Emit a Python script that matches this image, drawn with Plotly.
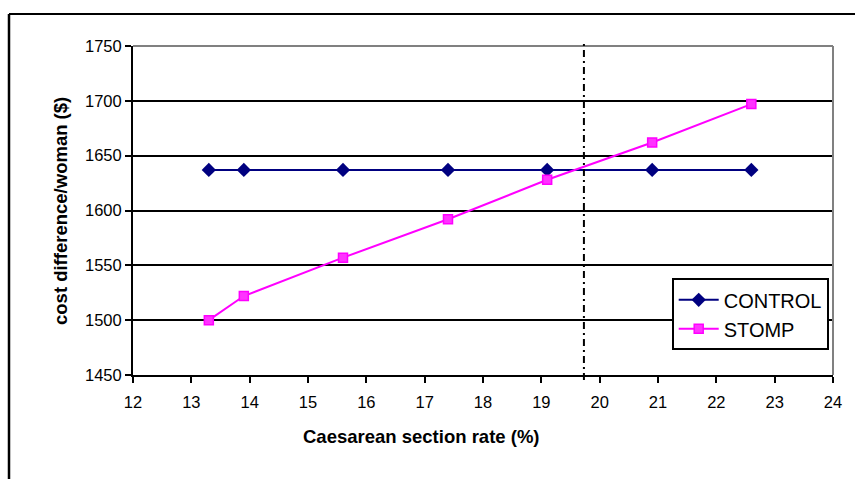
import plotly.graph_objects as go

# Data
x_rate = [13.3, 13.9, 15.6, 17.4, 19.1, 20.9, 22.6]
control_cost = [1637, 1637, 1637, 1637, 1637, 1637, 1637]
stomp_cost = [1500, 1522, 1557, 1592, 1628, 1662, 1697]
threshold_rate = 19.73

x_ticks = list(range(12, 25))
y_ticks = [1450, 1500, 1550, 1600, 1650, 1700, 1750]

FONT = "Liberation Sans, Arial, sans-serif"
W, H = 855, 479
L, R, T, B = 133, 22, 46, 104
PW, PH = W - L - R, H - T - B

fig = go.Figure()
fig.add_trace(go.Scatter(
    x=x_rate, y=control_cost, name="CONTROL", mode="lines+markers",
    line=dict(color="#000080", width=2),
    marker=dict(symbol="diamond", size=11, color="#000080"),
))
fig.add_trace(go.Scatter(
    x=x_rate, y=stomp_cost, name="STOMP", mode="lines+markers",
    line=dict(color="#FF00FF", width=2),
    marker=dict(symbol="square", size=9, color="#FF33FF",
                line=dict(color="#FF00FF", width=1.5)),
))


def px_x(p):
    return (p - L) / PW


def px_y(p):
    return (H - B - p) / PH


shapes = [
    # grey top/right frame of plot area
    dict(type="line", xref="paper", yref="paper", x0=0, x1=1, y0=1, y1=1,
         line=dict(color="#808080", width=2)),
    dict(type="line", xref="paper", yref="paper", x0=1, x1=1, y0=0, y1=1,
         line=dict(color="#808080", width=2)),
    # threshold vertical
    dict(type="line", xref="x", yref="paper", x0=threshold_rate, x1=threshold_rate,
         y0=-0.015, y1=1.006, line=dict(color="black", width=2, dash="7px,4px,2px,4px")),
    # outer chart frame (top and left)
    dict(type="line", xref="paper", yref="paper", x0=px_x(9), x1=px_x(870),
         y0=px_y(14), y1=px_y(14), line=dict(color="black", width=2)),
    dict(type="line", xref="paper", yref="paper", x0=px_x(9), x1=px_x(9),
         y0=px_y(14), y1=px_y(490), line=dict(color="black", width=2.5)),
]

annotations = [
    dict(text="<b>Caesarean section rate (%)</b>", xref="paper", yref="paper",
         x=px_x(421), y=px_y(436), showarrow=False, xanchor="center", yanchor="middle",
         font=dict(family=FONT, size=18.5, color="black")),
    dict(text="<b>cost difference/woman ($)</b>", xref="paper", yref="paper",
         x=px_x(60.5), y=px_y(211.5), showarrow=False, textangle=-90,
         xanchor="center", yanchor="middle",
         font=dict(family=FONT, size=18.5, color="black")),
]

fig.update_layout(
    width=W, height=H,
    margin=dict(l=L, r=R, t=T, b=B),
    paper_bgcolor="white", plot_bgcolor="white",
    font=dict(family=FONT, size=16, color="black"),
    shapes=shapes, annotations=annotations,
    legend=dict(
        x=px_x(671.7), y=px_y(278.3), xanchor="left", yanchor="top",
        bgcolor="white", bordercolor="black", borderwidth=2,
        font=dict(family=FONT, size=20, color="black"),
        itemwidth=40,
    ),
    showlegend=True,
)

fig.update_xaxes(
    range=[12, 24], tickvals=x_ticks, ticktext=[str(v) for v in x_ticks],
    showline=True, linecolor="black", linewidth=2, mirror=False,
    ticks="outside", ticklen=6, tickwidth=2, tickcolor="black",
    ticklabelstandoff=5,
    showgrid=False, zeroline=False,
    tickfont=dict(family=FONT, size=16.5, color="black"),
)
fig.update_yaxes(
    range=[1450, 1750], tickvals=y_ticks, ticktext=[str(v) for v in y_ticks],
    showline=True, linecolor="black", linewidth=2, mirror=False,
    ticks="outside", ticklen=6, tickwidth=2, tickcolor="black",
    showgrid=True, gridcolor="black", gridwidth=1.6, zeroline=False,
    tickfont=dict(family=FONT, size=16.5, color="black"),
)

fig.write_html("out.html")
